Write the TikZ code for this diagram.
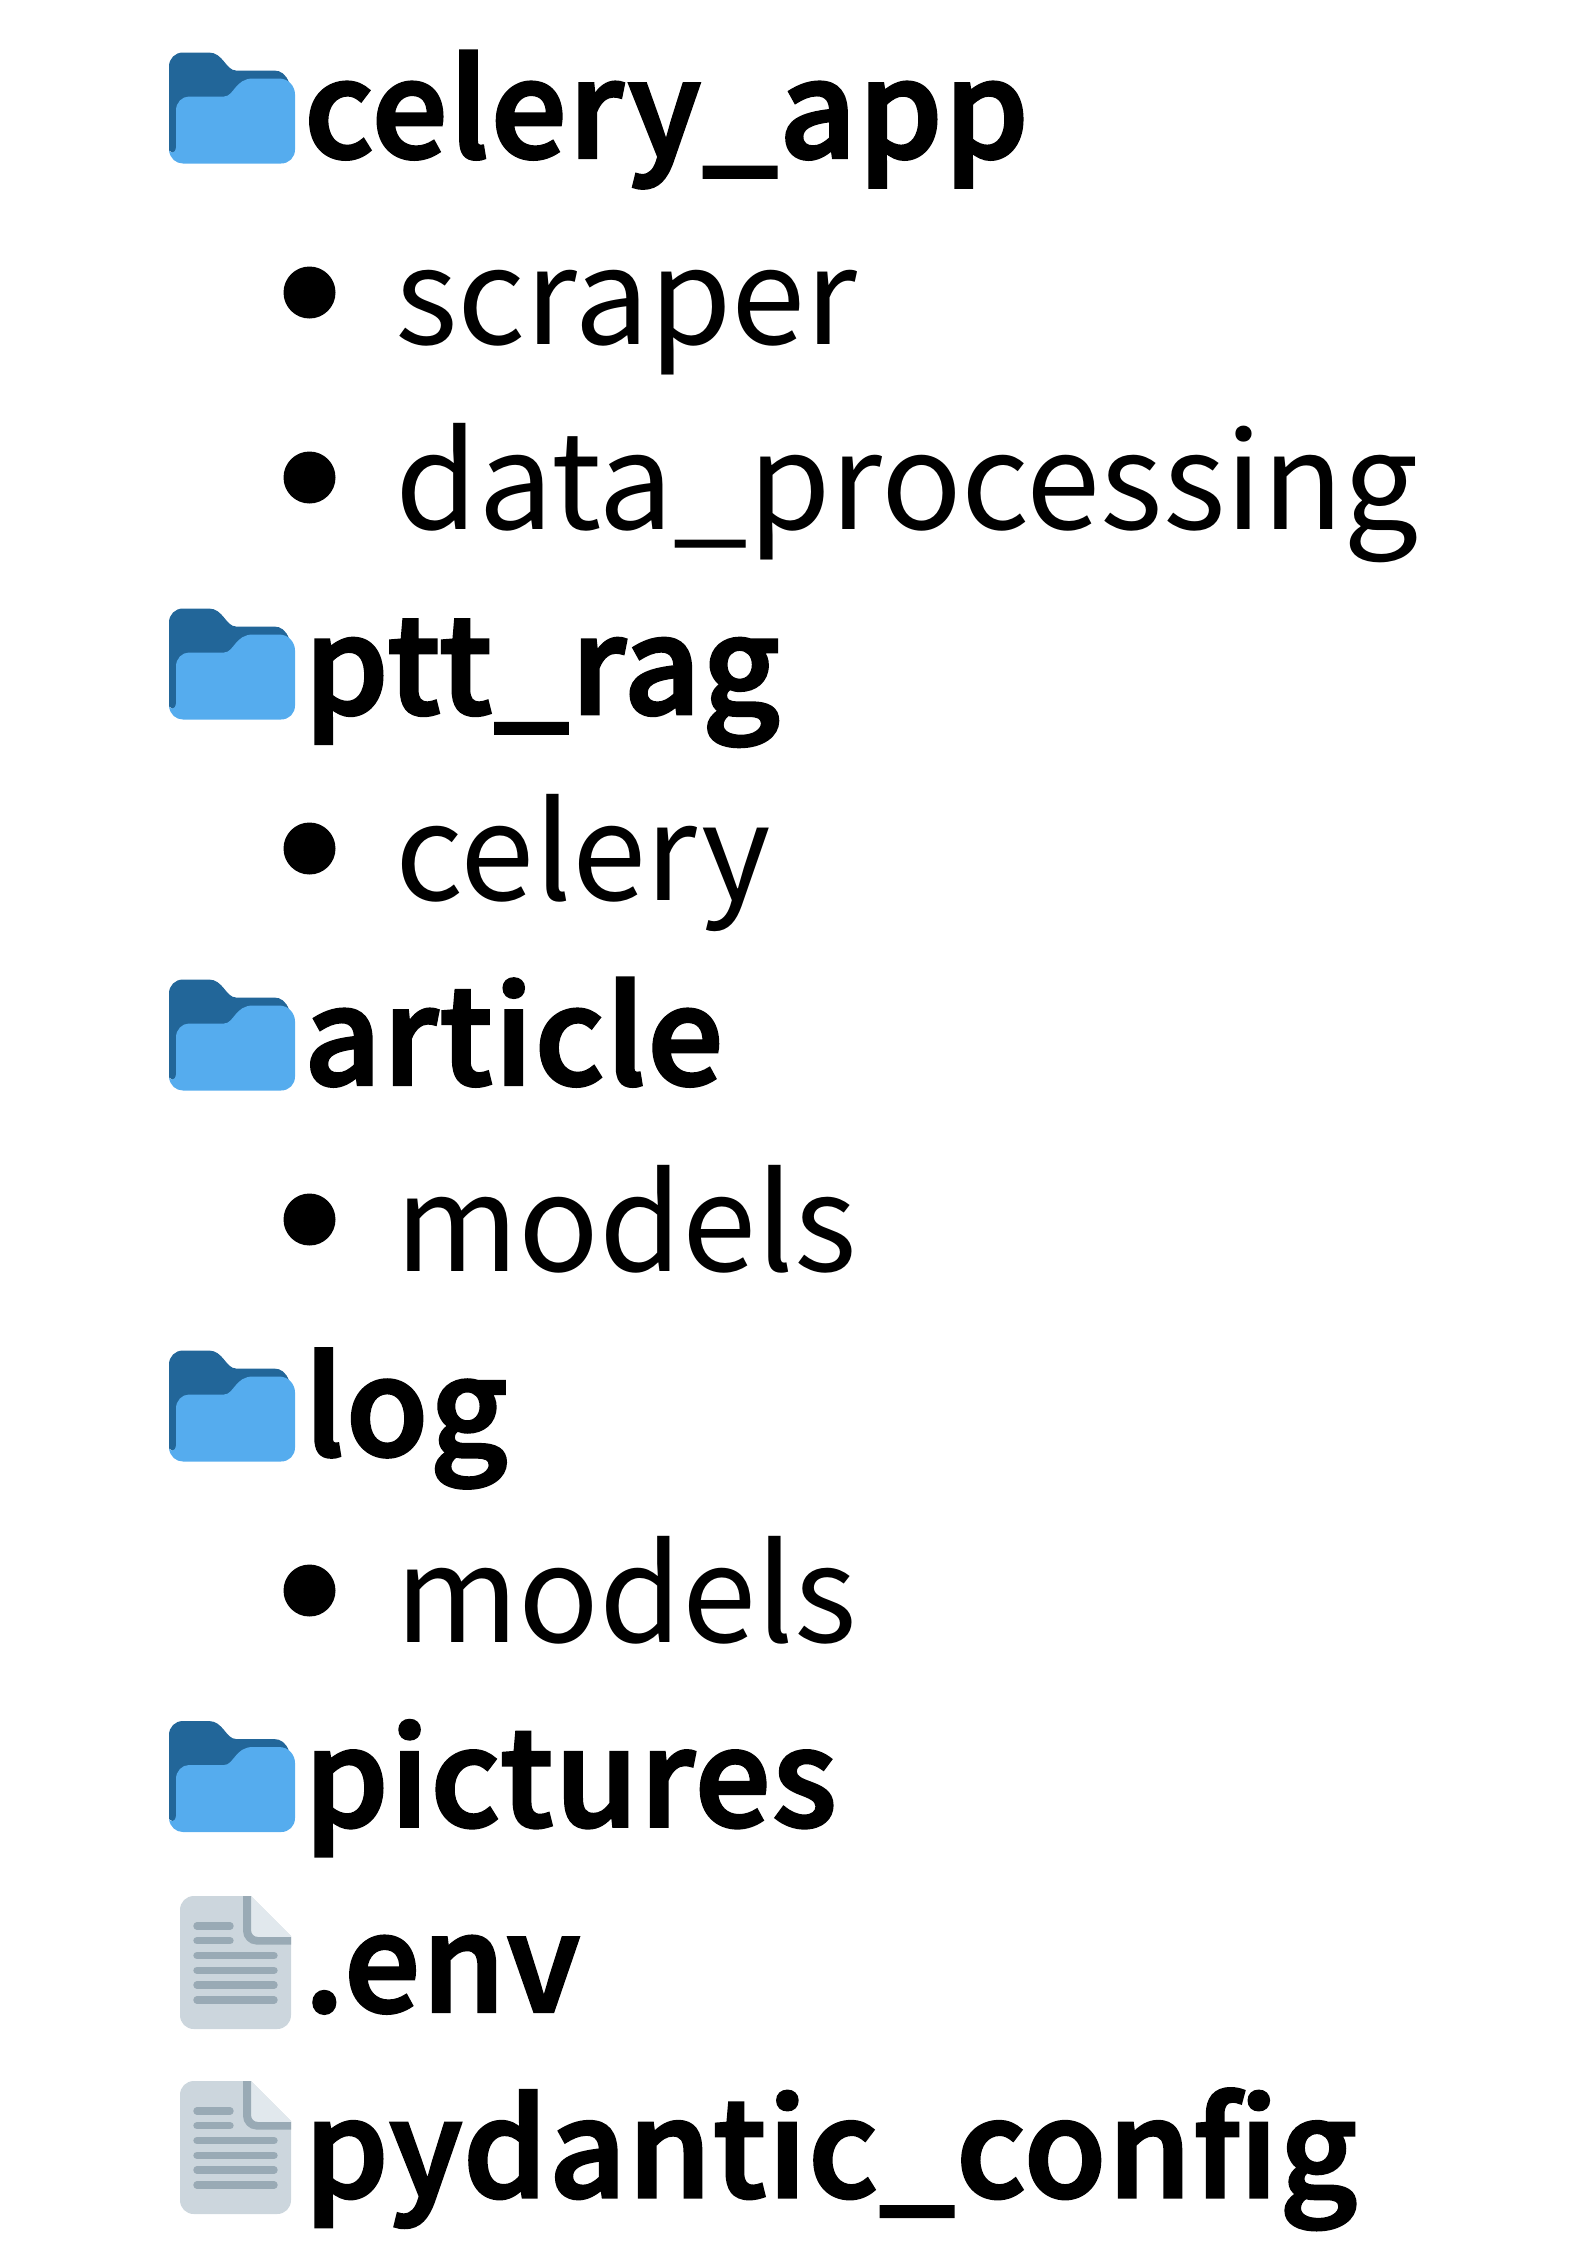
\documentclass[tikz,border=0pt]{standalone}
\usepackage{fontspec}
\setmainfont{Noto Sans CJK TC}
\newfontfamily\headfont[FakeBold=2.6,LetterSpace=1.5]{Noto Sans CJK TC Medium}
\definecolor{fdark}{HTML}{226699}
\definecolor{flight}{HTML}{55ACEE}
\definecolor{dbody}{HTML}{CCD6DD}
\definecolor{dline}{HTML}{99AAB5}
\definecolor{dfold}{HTML}{E1E8ED}
\tikzset{
  head/.style={anchor=base west,inner sep=0pt,font=\fontsize{66.7pt}{67pt}\headfont},
  item/.style={anchor=base west,inner sep=0pt,font=\fontsize{66.7pt}{67pt}\selectfont},
  dot/.style={circle,fill=black,draw=none,minimum size=26pt,inner sep=0pt},
  rule/.style={line width=3.7pt,line cap=round,draw=dline}
}
\newcommand{\foldericon}[1]{%
\begin{scope}[shift={(169,#1)}]
\fill[fdark] (0,14) .. controls (0,6) and (6,0) .. (14,0) -- (40,0)
  .. controls (54,0) and (57,18) .. (67,18) -- (105,18)
  .. controls (112,18) and (117,22) .. (120,30) -- (120,60) -- (10,104) -- (0,98) -- cycle;
\fill[flight] (0,98) .. controls (1,101) and (7,101) .. (7,95) -- (7,58)
  .. controls (7,50) and (13,44) .. (20,44) -- (55,44)
  .. controls (65,44) and (66,26) .. (84,26) -- (110,26)
  .. controls (120,26) and (126,34) .. (126,42) -- (126,97)
  .. controls (126,105) and (120,111) .. (112,111) -- (14,111)
  .. controls (7,111) and (1,106) .. (0,98) -- cycle;
\end{scope}}
\newcommand{\fileicon}[1]{%
\begin{scope}[shift={(180,#1)}]
\fill[dbody] (14,0) -- (71,0) -- (111,40) -- (111,119)
  .. controls (111,127) and (105,133) .. (97,133) -- (14,133)
  .. controls (6,133) and (0,127) .. (0,119) -- (0,14)
  .. controls (0,6) and (6,0) .. (14,0) -- cycle;
\fill[dfold] (71,0) -- (111,40) -- (111,41) -- (78,41) .. controls (74,41) and (71,38) .. (71,34) -- cycle;
\fill[dline] (63,0) -- (71,0) -- (71,34) .. controls (71,38) and (74,41) .. (78,41) -- (111,41) -- (111,48.5) -- (76,48.5)
  .. controls (69,48.5) and (63,42) .. (63,35) -- cycle;
\draw[rule] (17,30) -- (50,30);
\draw[rule] (17,44.7) -- (50,44.7);
\draw[rule] (17,59.5) -- (94,59.5);
\draw[rule] (17,74.3) -- (94,74.3);
\draw[rule] (17,89) -- (94,89);
\draw[rule] (17,104) -- (94,104);
\end{scope}}
\begin{document}
\begin{tikzpicture}[x=0.5pt,y=-0.5pt]
\useasboundingbox (0,0) rectangle (1587,2245);
\foldericon{52.5}
\foldericon{608.5}
\foldericon{979.5}
\foldericon{1350.5}
\foldericon{1721}
\fileicon{1896}
\fileicon{2081}
\node[head] (t1) at (304,157.4) {celery\_app};
\node[dot] (b1) at (309.5,292.5) {};
\node[item] (t2) at (395,344.2) {scraper};
\node[dot] (b2) at (309.5,477.5) {};
\node[item] (t3) at (395,529.6) {data\_processing};
\node[head] (t4) at (304,713.6) {ptt\_rag};
\node[dot] (b3) at (309.5,848.5) {};
\node[item] (t5) at (395,900.4) {celery};
\node[head] (t6) at (304,1084.4) {article};
\node[dot] (b4) at (309.5,1219.5) {};
\node[item] (t7) at (395,1271.2) {models};
\node[head] (t8) at (304,1455.2) {log};
\node[dot] (b5) at (309.5,1590.5) {};
\node[item] (t9) at (395,1642) {models};
\node[head] (t10) at (304,1826) {pictures};
\node[head] (t11) at (304,2011.4) {.env};
\node[head] (t12) at (304,2196.8) {pydantic\_config};
\end{tikzpicture}
\end{document}
